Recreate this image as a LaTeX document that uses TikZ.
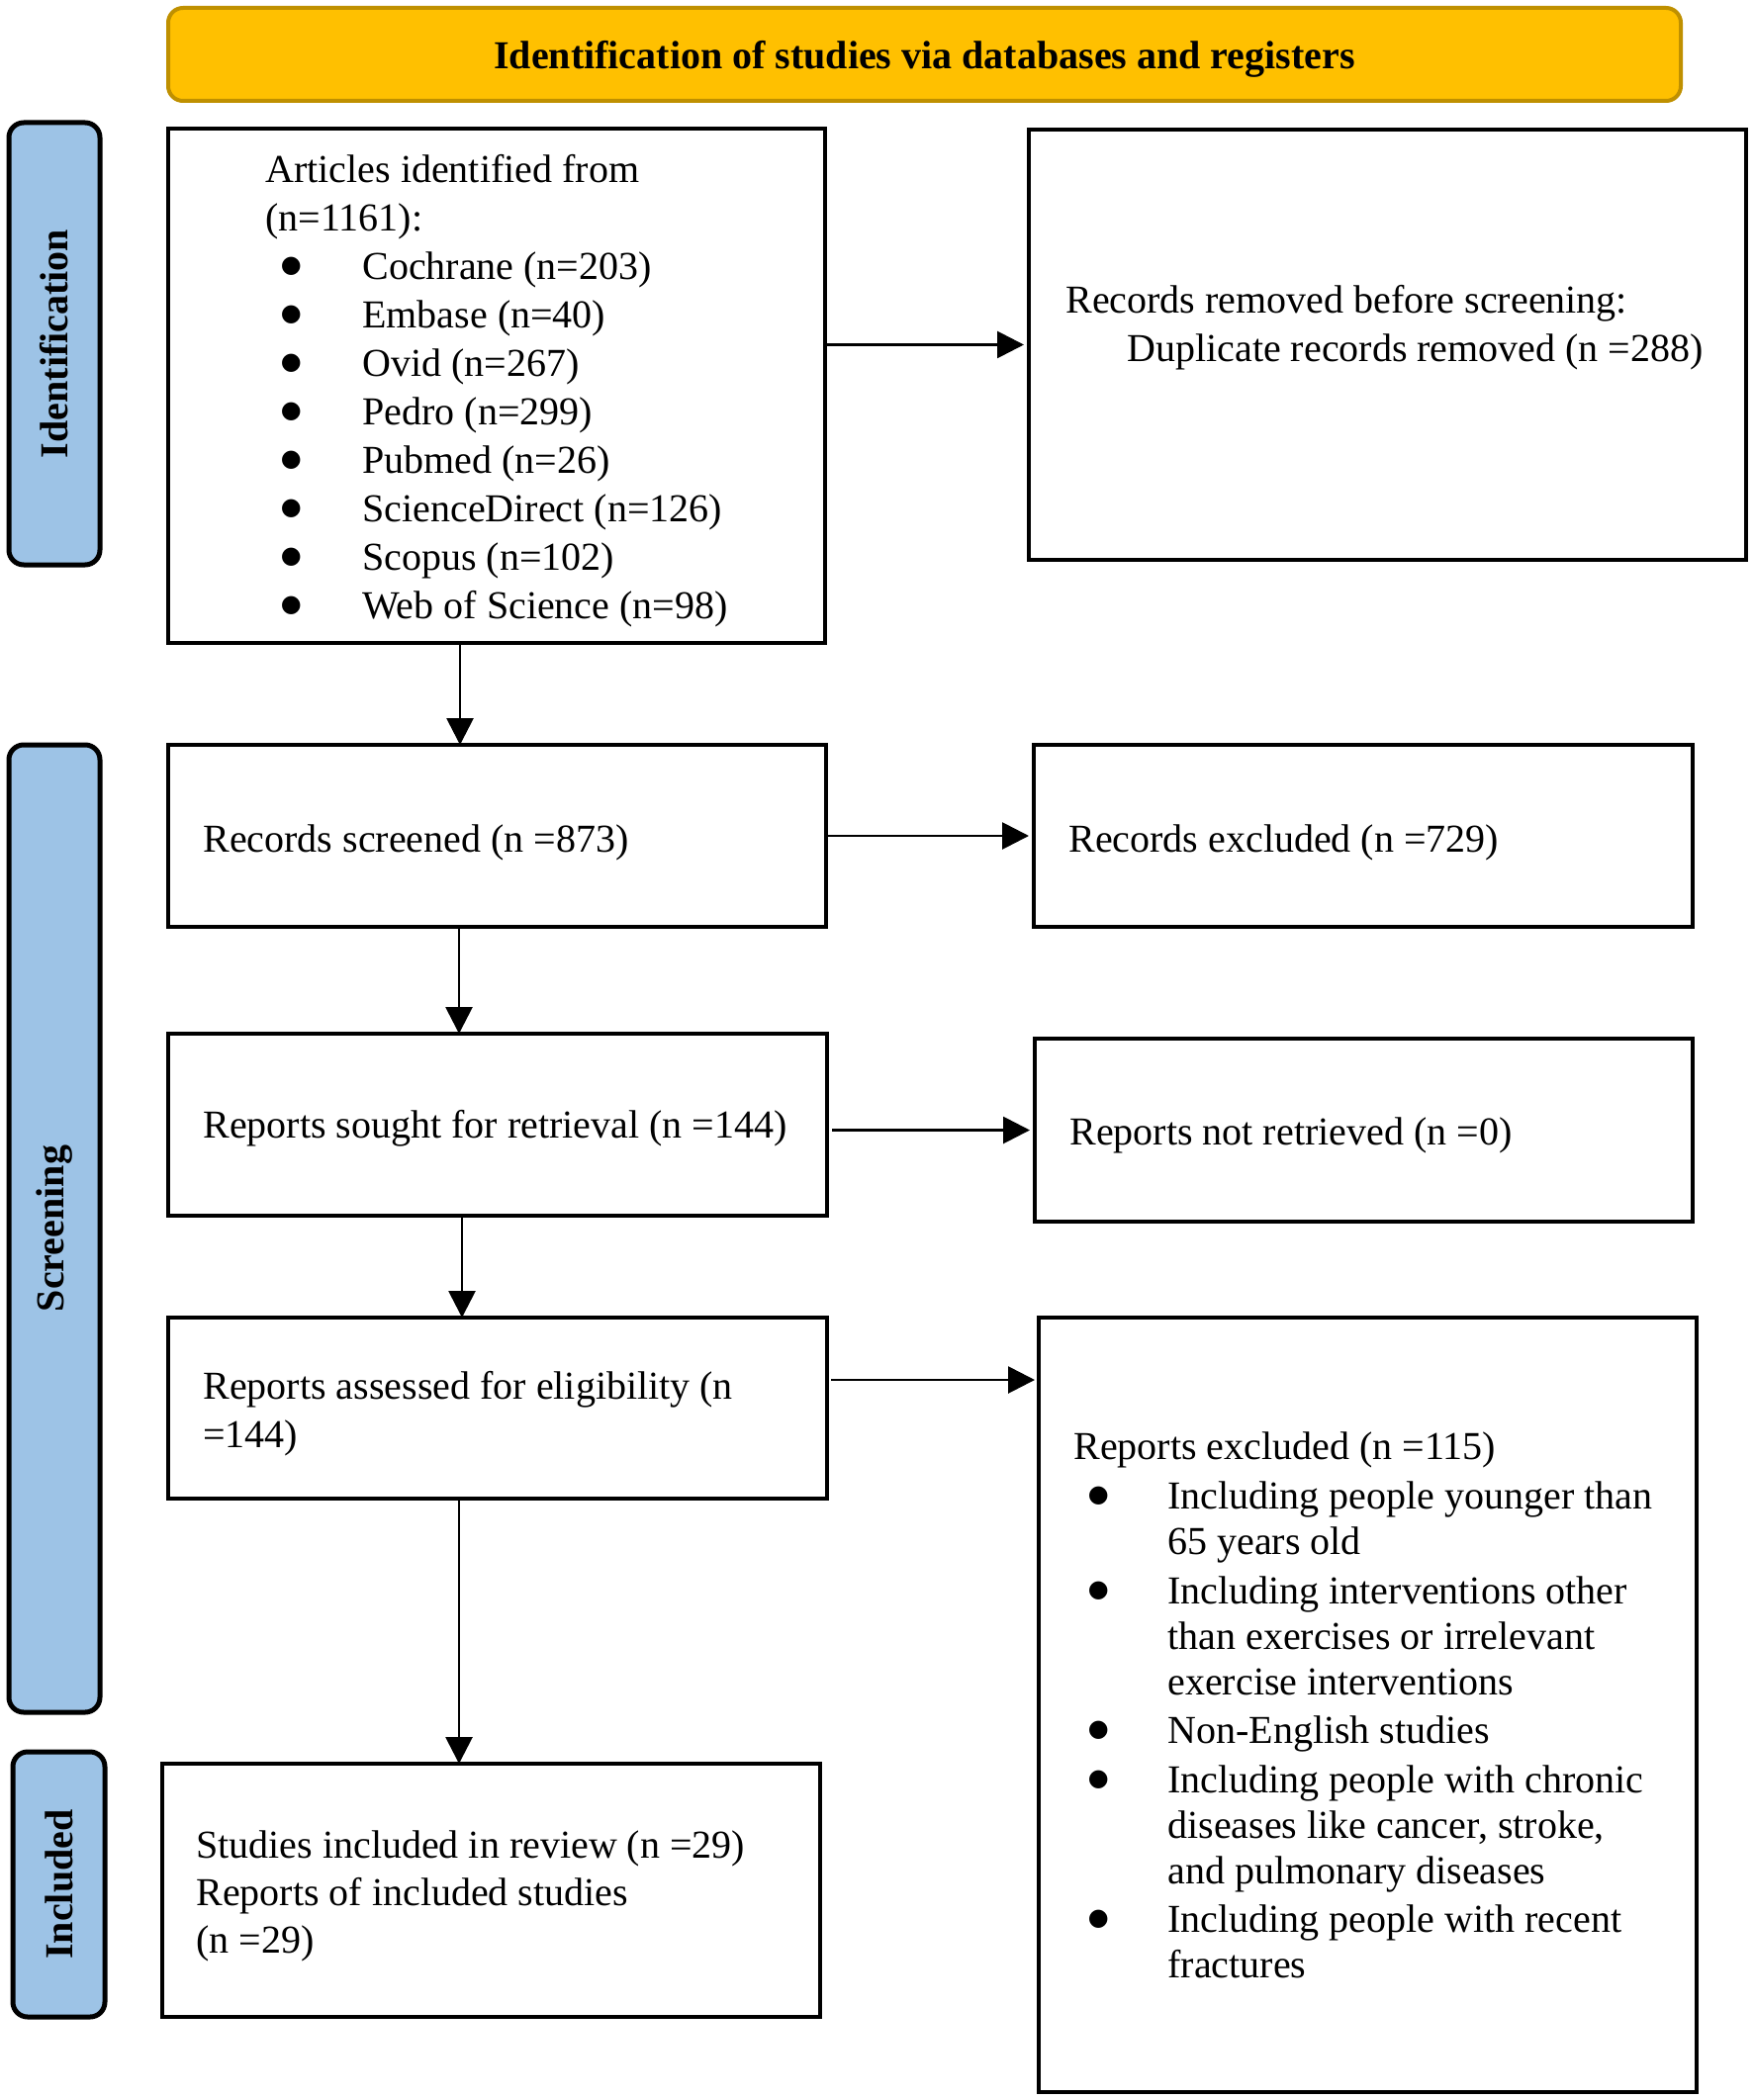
\documentclass[tikz,border=0pt]{standalone}
\usepackage{fontspec}
\setmainfont{Liberation Serif}
\newfontfamily\dejavu{DejaVu Sans}
\usetikzlibrary{arrows.meta}
\definecolor{bannerfill}{HTML}{FFC000}
\definecolor{bannerline}{HTML}{BF9000}
\definecolor{labelfill}{HTML}{9DC3E6}
\tikzset{
  stagebox/.style={draw=black, line width=2.25pt, fill=white, inner sep=0pt, outer sep=0pt},
  sidelabel/.style={draw=black, line width=2.5pt, fill=labelfill, rounded corners=7.5pt, inner sep=0pt, outer sep=0pt},
  sidetext/.style={rotate=90, font=\fontsize{20}{24}\selectfont\bfseries, inner sep=0pt},
  bodytext/.style={anchor=west, align=left, inner sep=0pt, font=\fontsize{20}{24.5}\selectfont},
  arr/.style={line width=1.4pt, -{Triangle[length=13.5pt,width=13.5pt]}},
}
\newcommand{\bigdot}{\raisebox{3.4pt}{\dejavu\fontsize{12}{13}\selectfont ●}}
\newcommand{\blt}[1]{\hspace*{6pt}\makebox[14pt][c]{\bigdot}\hspace*{29pt}#1}
\newcommand{\bltx}[1]{\hspace*{5.5pt}\makebox[14pt][c]{\bigdot}\hspace*{28pt}#1}
\newcommand{\cnt}[1]{\hspace*{47.5pt}#1}
\begin{document}
\begin{tikzpicture}[x=0.5pt,y=-0.5pt]
\useasboundingbox (0,0) rectangle (1772,2123);
% banner
\node[draw=bannerline, line width=2pt, fill=bannerfill, rounded corners=7.5pt,
      minimum width=764.5pt, minimum height=47pt, inner sep=0pt] (banner) at (934.5,55) {};
\node[inner sep=0pt, font=\fontsize{20}{24}\selectfont\bfseries] (bantxt) at ([yshift=-2.5pt]banner.center)
      {Identification of studies via databases and registers};
% side labels
\node[sidelabel, minimum width=46pt, minimum height=223.5pt] (idlab) at (55,347.5) {};
\node[sidetext] (idtxt) at (idlab.center) {Identification};
\node[sidelabel, minimum width=46pt, minimum height=489pt] (scrlab) at (55,1242) {};
\node[sidetext] (scrtxt) at (scrlab.center) {Screening};
\node[sidelabel, minimum width=46.5pt, minimum height=134pt] (inclab) at (59.5,1905) {};
\node[sidetext] (inctxt) at (inclab.center) {Included};
% boxes
\node[stagebox, minimum width=332pt, minimum height=260pt] (art) at (502,390) {};
\node[stagebox, minimum width=362.5pt, minimum height=217.5pt] (rem) at (1402.5,348.5) {};
\node[stagebox, minimum width=332.5pt, minimum height=92pt] (scr) at (502.5,845) {};
\node[stagebox, minimum width=333pt, minimum height=92pt] (exc) at (1378,845) {};
\node[stagebox, minimum width=333pt, minimum height=92pt] (sou) at (503,1137) {};
\node[stagebox, minimum width=332.5pt, minimum height=92.5pt] (nre) at (1378.5,1142.5) {};
\node[stagebox, minimum width=333pt, minimum height=91.5pt] (ass) at (503,1423.5) {};
\node[stagebox, minimum width=332.5pt, minimum height=391.5pt] (rex) at (1382.5,1723.5) {};
\node[stagebox, minimum width=332.5pt, minimum height=128pt] (stu) at (496.5,1911) {};
% texts
\node[bodytext] (arttxt) at ([xshift=49pt,yshift=-2.5pt]art.west) {%
Articles identified from\\
(n=1161):\\
\blt{Cochrane (n=203)}\\
\blt{Embase (n=40)}\\
\blt{Ovid (n=267)}\\
\blt{Pedro (n=299)}\\
\blt{Pubmed (n=26)}\\
\blt{ScienceDirect (n=126)}\\
\blt{Scopus (n=102)}\\
\blt{Web of Science (n=98)}};
\node[bodytext] (remtxt) at ([xshift=18.5pt,yshift=8.8pt]rem.west) {%
Records removed before screening:\\
\hspace*{31pt}Duplicate records removed (n =288)};
\node[bodytext] (scrtxt2) at ([xshift=17.5pt,yshift=-3.5pt]scr.west) {Records screened (n =873)};
\node[bodytext] (exctxt) at ([xshift=17.5pt,yshift=-3.5pt]exc.west) {Records excluded (n =729)};
\node[bodytext] (soutxt) at ([xshift=17.5pt,yshift=-2pt]sou.west) {Reports sought for retrieval (n =144)};
\node[bodytext] (nretxt) at ([xshift=17.5pt,yshift=-2.5pt]nre.west) {Reports not retrieved (n =0)};
\node[bodytext] (asstxt) at ([xshift=17.5pt,yshift=-3pt]ass.west) {Reports assessed for eligibility (n\\ =144)};
\node[bodytext, font=\fontsize{20}{23}\selectfont] (rextxt) at ([xshift=17.5pt,yshift=0pt]rex.west) {%
Reports excluded (n =115)\\[2pt]
\bltx{Including people younger than}\\
\cnt{65 years old}\\[2pt]
\bltx{Including interventions other}\\
\cnt{than exercises or irrelevant}\\
\cnt{exercise interventions}\\[1.5pt]
\bltx{Non-English studies}\\[2pt]
\bltx{Including people with chronic}\\
\cnt{diseases like cancer, stroke,}\\
\cnt{and pulmonary diseases}\\[1.5pt]
\bltx{Including people with recent}\\
\cnt{fractures}};
\node[bodytext, font=\fontsize{20}{24}\selectfont] (stutxt) at ([xshift=17pt,yshift=-3pt]stu.west) {%
Studies included in review (n =29)\\
Reports of included studies\\
(n =29)};
% connectors
\coordinate (h4) at (840,1395);
\draw[arr] (art.east |- rem.west) -- ([xshift=-2.5pt]rem.west);
\draw[arr] (scr.east |- exc.west) -- ([xshift=-2.5pt]exc.west);
\draw[arr] ([xshift=2.5pt]sou.east |- nre.west) -- ([xshift=-2.5pt]nre.west);
\draw[arr] (h4) -- ([xshift=-2pt]h4 -| rex.west);
\coordinate (v1) at (465,0);
\coordinate (v2) at (464,0);
\coordinate (v3) at (467,0);
\coordinate (v4) at (464,0);
\draw[arr] (art.south -| v1) -- (scr.north -| v1);
\draw[arr] (scr.south -| v2) -- (sou.north -| v2);
\draw[arr] (sou.south -| v3) -- (ass.north -| v3);
\draw[arr] (ass.south -| v4) -- (stu.north -| v4);
\end{tikzpicture}
\end{document}
